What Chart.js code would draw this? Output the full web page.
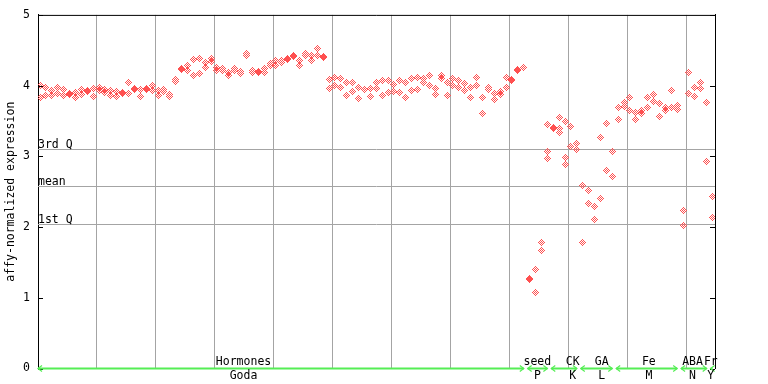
<!DOCTYPE html>
<html><head><meta charset="utf-8">
<script src="https://cdn.jsdelivr.net/npm/chart.js@4"></script>
<style>html,body{margin:0;padding:0;background:#fff}canvas{display:block}</style>
</head><body>
<canvas id="c" width="768" height="384"></canvas>
<script>
// ---------- data ----------
const yTickValues = [0, 1, 2, 3, 4, 5];
const quartileLabels = ['3rd Q', 'mean', '1st Q'];
const quartileValues = [3.10, 2.58, 2.04];
const groupNames = ['Hormones', 'seed', 'CK', 'GA', 'Fe', 'ABA', 'Fr'];
const groupCodes = ['Goda', 'P', 'K', 'L', 'M', 'N', 'Y'];
const groupFirst = [0, 83, 87, 92, 98, 109, 114];
const groupLast = [82, 86, 91, 97, 108, 113, 114];
const groupLabelAt = [34.5, 84.3, 90.3, 95.2, 103.2, 110.6, 113.7];
const axisTitle = 'affy-normalized expression';

// replicate values per sample slot
const sampleValues = [
 [4.00,3.83],[3.98,3.86],[3.93,3.86],[3.98,3.89],[3.94,3.86],[3.88,3.89],[3.90,3.83],[3.94,3.87],[3.92,3.93],[3.96,3.85],
 [3.98,3.93],[3.95,3.90],[3.93,3.86],[3.91,3.84],[3.89,3.90],[3.89,4.04],[3.95,3.96],[3.94,3.84],[3.95,3.96],[4.00,3.93],
 [3.93,3.86],[3.94,3.91],[3.87,3.85],[4.08,4.06],[4.23,4.24],[4.22,4.28],[4.37,4.15],[4.38,4.17],[4.32,4.26],[4.38,4.34],
 [4.26,4.22],[4.24,4.21],[4.18,4.15],[4.24,4.21],[4.20,4.17],[4.45,4.43],[4.22,4.19],[4.19,4.20],[4.24,4.18],[4.31,4.28],
 [4.35,4.29],[4.36,4.32],[4.37,4.38],[4.43,4.41],[4.35,4.29],[4.46,4.42],[4.42,4.36],[4.52,4.43],[4.40,4.41],[3.96,4.08],
 [4.11,4.00],[4.10,3.97],[4.04,3.86],[4.04,3.92],[3.98,3.82],[3.95,3.94],[3.96,3.84],[4.05,3.96],[4.07,3.86],[3.90,4.07],
 [4.01,3.91],[4.07,3.90],[4.04,3.83],[4.10,3.93],[4.11,3.94],[4.04,4.10],[4.15,4.00],[3.96,3.87],[4.15,4.10],[3.86,4.05],
 [4.10,4.00],[4.07,3.98],[3.93,4.03],[3.98,3.83],[4.00,4.12],[3.83,3.60],[3.97,3.95],[3.80,3.89],[3.91,3.87],[4.12,3.98],
 [4.07,4.08],[4.22,4.23],[4.25],[1.26,1.27],[1.40,1.08],[1.78,1.67],[3.45,3.07,2.97],[3.40,3.41],[3.55,3.39,3.34],[3.49,2.99,2.89],
 [3.42,3.14],[3.18,3.09],[2.59,1.78],[2.51,2.34],[2.29,2.10],[3.27,2.40],[3.46,2.80],[3.07,2.71],[3.69,3.52],[3.76,3.70],
 [3.83,3.65],[3.62,3.52],[3.65,3.60],[3.83,3.69],[3.87,3.77],[3.75,3.56],[3.69,3.65],[3.93,3.69],[3.72,3.66],[2.24,2.02],
 [4.18,3.89],[3.97,3.84],[4.04,3.96],[3.76,2.92],[2.43,2.14]
];

// ---------- helpers ----------
function toPoints(list) {
  const pts = [];
  list.forEach((vals, i) => vals.forEach(v => pts.push({x: i + 0.5, y: v})));
  return pts;
}
function diamondImage(color) {
  const cv = document.createElement('canvas');
  cv.width = 7; cv.height = 7;
  const g = cv.getContext('2d');
  g.fillStyle = color;
  for (let y = 0; y < 7; y++) for (let x = 0; x < 7; x++) {
    if (Math.abs(x - 3) + Math.abs(y - 3) <= 3 && (x + y) % 2 === 1) g.fillRect(x, y, 1, 1);
  }
  return cv;
}
const FONT = {family: '"DejaVu Sans Mono", monospace', size: 11.5};
const FONTSTR = '11.5px "DejaVu Sans Mono", monospace';
const GREEN = '#55ee55';

const refPlugin = {
  id: 'ref',
  beforeDatasetsDraw(chart) {
    const {ctx, chartArea: a, scales: {y}} = chart;
    ctx.save();
    ctx.strokeStyle = '#a4a4a4';
    ctx.lineWidth = 1;
    ctx.font = FONTSTR;
    ctx.fillStyle = '#000';
    ctx.textAlign = 'left';
    ctx.textBaseline = 'alphabetic';
    quartileValues.forEach((v, k) => {
      const py = Math.round(y.getPixelForValue(v)) + 0.5;
      ctx.beginPath(); ctx.moveTo(a.left, py); ctx.lineTo(a.right, py); ctx.stroke();
      ctx.fillText(quartileLabels[k], a.left, py - 2);
    });
    ctx.restore();
    ctx.save();
    ctx.imageSmoothingEnabled = false;
  },
  afterDatasetsDraw(chart) {
    chart.ctx.restore();
  },
  afterDraw(chart) {
    const {ctx, chartArea: a, scales: {x, y}} = chart;
    ctx.save();
    ctx.strokeStyle = '#000'; ctx.lineWidth = 1;
    ctx.beginPath(); ctx.moveTo(a.left, a.top + 0.5); ctx.lineTo(a.right + 0.5, a.top + 0.5); ctx.stroke();
    yTickValues.forEach(v => {
      const py = Math.round(y.getPixelForValue(v)) + 0.5;
      ctx.beginPath();
      ctx.moveTo(a.left, py); ctx.lineTo(a.left + 5, py);
      ctx.moveTo(a.right - 5, py); ctx.lineTo(a.right, py);
      ctx.stroke();
    });
    const gy = a.bottom;
    ctx.strokeStyle = GREEN; ctx.lineWidth = 2;
    groupFirst.forEach((f, k) => {
      let x0 = x.getPixelForValue(f + 0.5) - 2;
      let x1 = x.getPixelForValue(groupLast[k] + 0.5);
      if (k === 0) x0 = a.left;
      x1 = Math.min(x1, a.right);
      ctx.beginPath(); ctx.moveTo(x0, gy); ctx.lineTo(x1, gy); ctx.stroke();
      ctx.lineWidth = 1.2;
      ctx.beginPath();
      ctx.moveTo(x0 + 4, gy - 3); ctx.lineTo(x0, gy); ctx.lineTo(x0 + 4, gy + 3);
      if (x1 - x0 > 8) { ctx.moveTo(x1 - 4, gy - 3); ctx.lineTo(x1, gy); ctx.lineTo(x1 - 4, gy + 3); }
      ctx.stroke();
      ctx.lineWidth = 2;
    });
    ctx.font = FONTSTR; ctx.fillStyle = '#000'; ctx.textAlign = 'center'; ctx.textBaseline = 'middle';
    groupNames.forEach((n, k) => {
      const px = x.getPixelForValue(groupLabelAt[k] + 0.5);
      ctx.fillText(n, px, 362.5);
      ctx.fillText(groupCodes[k], px, 376.5);
    });
    ctx.restore();
  }
};

new Chart(document.getElementById('c'), {
  type: 'scatter',
  data: {
    datasets: [
      {label: 'expression', data: toPoints(sampleValues), pointStyle: diamondImage('#ff5050'), pointRadius: 3.5, pointHoverRadius: 3.5}
    ]
  },
  options: {
    responsive: false,
    animation: false,
    devicePixelRatio: 1,
    layout: {padding: {top: 13, left: 0, right: 0, bottom: 0}},
    plugins: {legend: {display: false}, tooltip: {enabled: false}},
    scales: {
      x: {
        type: 'linear', min: 0.16, max: 114.91,
        afterBuildTicks: s => { s.ticks = [10,20,30,40,50,60,70,80,90,100,110].map(v => ({value: v})); },
        ticks: {display: false},
        grid: {color: '#a4a4a4', drawTicks: false, lineWidth: 1},
        border: {display: false},
        afterFit: s => { s.height = 15.5; }
      },
      y: {
        min: 0, max: 5,
        afterBuildTicks: s => { s.ticks = yTickValues.map(v => ({value: v})); },
        ticks: {font: FONT, color: '#000', padding: 8},
        grid: {display: false, drawTicks: false},
        border: {color: '#000', width: 1},
        title: {display: true, text: axisTitle, font: FONT, color: '#000', padding: {top: 4, bottom: 0}},
        afterFit: s => { s.width = 38; }
      },
      y2: {
        position: 'right', min: 0, max: 5,
        ticks: {display: false},
        grid: {display: false, drawTicks: false},
        border: {color: '#000', width: 1},
        afterFit: s => { s.width = 53; }
      }
    }
  },
  plugins: [refPlugin]
});
</script>
</body></html>
